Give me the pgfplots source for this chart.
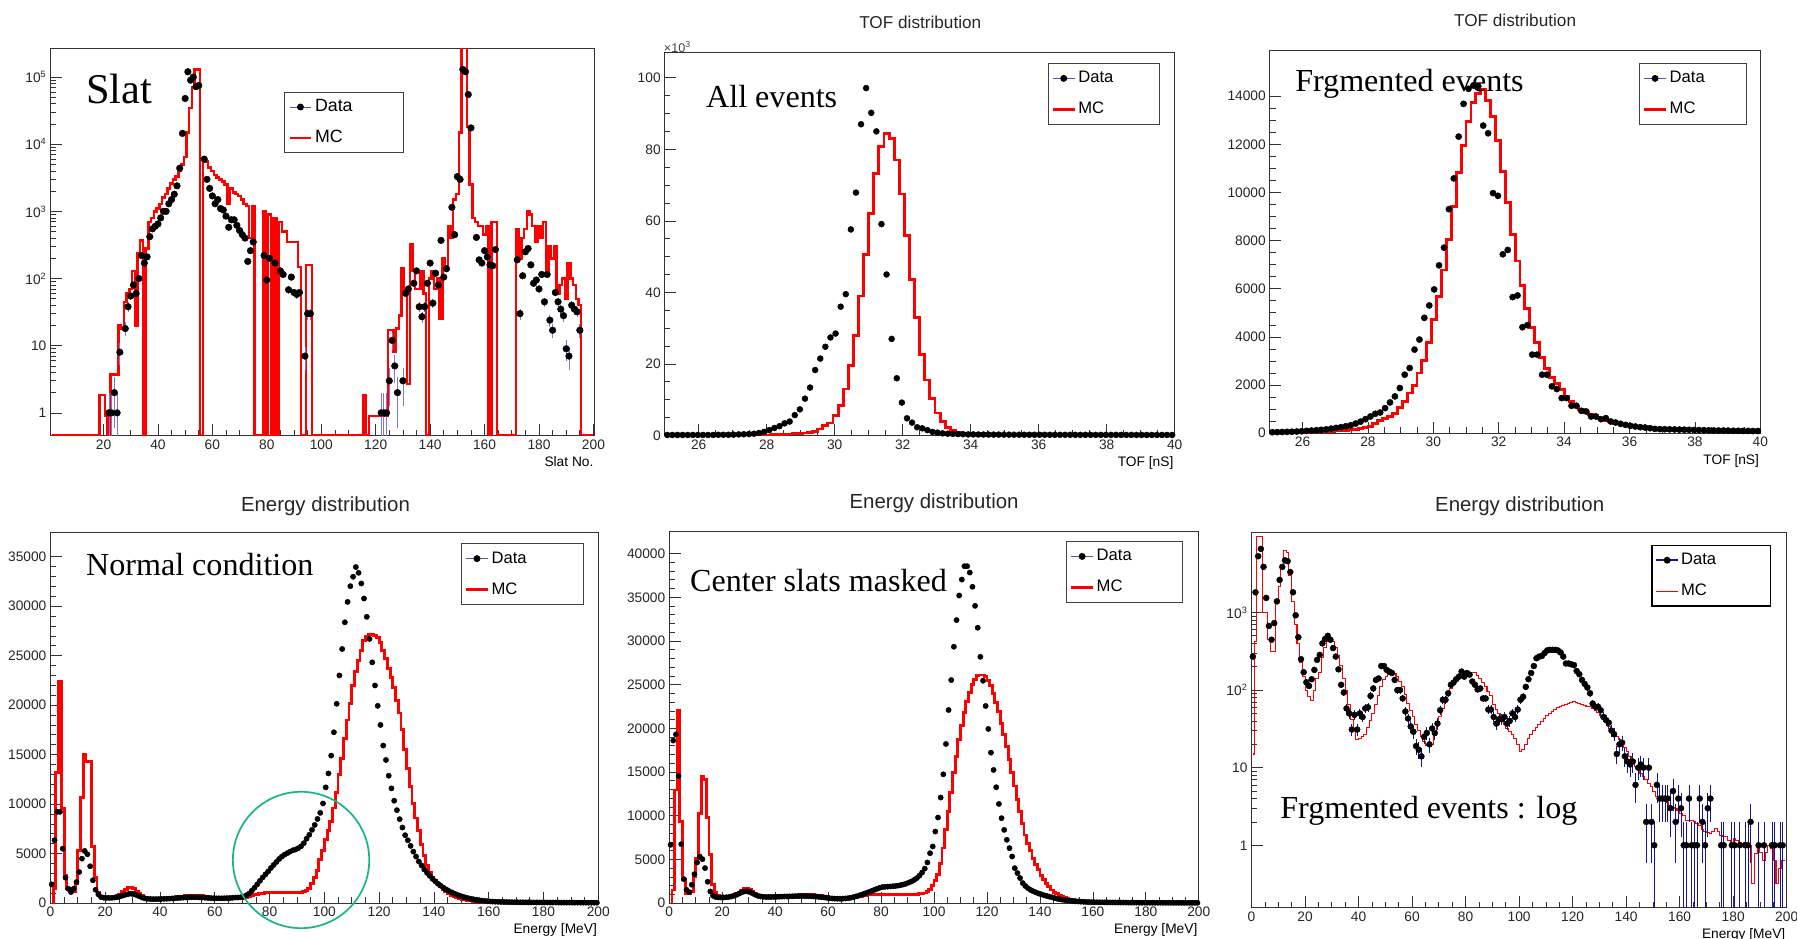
\documentclass[border=0pt]{standalone}
\usepackage{fontspec}
\setmainfont{Liberation Sans}
\newfontfamily\tnr{Liberation Serif}
\usepackage{pgfplots}
\usepackage{pgfplotstable}
\pgfplotsset{compat=1.18}
\newcommand{\fs}[1]{\fontsize{#1}{#1}\selectfont}
\definecolor{circgreen}{RGB}{24,180,140}
\definecolor{errblue}{RGB}{20,20,160}
\definecolor{errlight}{RGB}{120,120,215}

\pgfplotsset{
  rootaxis/.style={
    scale only axis,
    axis line style={black!80, line width=0.8pt},
    tick align=inside, xtick pos=bottom, ytick pos=left,
    major tick length=10pt, minor tick length=5pt,
    every tick/.style={black!80, line width=0.6pt},
    tick label style={font=\fs{12}, text=black!85},
    /pgf/number format/assume math mode=true,
    /pgf/number format/1000 sep={},
    scaled ticks=false,
    xlabel style={font=\fs{12}, at={(rel axis cs:1,0)}, anchor=north east, yshift=-18pt, xshift=-1pt, inner sep=0pt},
    legend cell align=left,
    legend style={draw=black!75, line width=0.8pt, fill=white, font=\fs{14.5}, anchor=north west,
      inner xsep=3pt, inner ysep=4pt, row sep=9pt,
      nodes={inner sep=2pt, text height=11pt, text depth=3pt}},
  },
  dataleg/.style={legend image code/.code={\draw[errlight!60!errblue, line width=0.8pt] (0pt,0pt) -- (19pt,0pt); \fill[black] (9.5pt,0pt) circle (2.6pt);}},
  datalegdark/.style={legend image code/.code={\draw[errblue, line width=1.3pt] (0pt,0pt) -- (19pt,0pt); \fill[black] (9.5pt,0pt) circle (2.3pt);}},
  mcleg/.style={legend image code/.code={\draw[red, line width=2.5pt] (0pt,0pt) -- (19pt,0pt);}},
  mclegthin/.style={legend image code/.code={\draw[red, line width=0.9pt] (0pt,0pt) -- (19pt,0pt);}},
  mcline/.style={red, line width=2.5pt, const plot mark mid, mark=none, forget plot},
  dots/.style={only marks, mark=*, mark size=#1, black, forget plot},
}

% ---------------- Slat ----------------
\pgfplotstableread{
x d
22 1
23 1
24 2
25 1
26 8
28 18
29 38
30 55
31 80
32 60
33 100
34 220
35 170
36 210
37 420
38 550
39 600
40 650
41 800
42 1000
43 1000
44 1300
45 1500
46 1800
47 2400
48 4400
49 14500
50 48000
51 120000
52 90000
53 100000
54 72000
55 75000
57 6000
58 3000
59 2200
60 1700
61 1300
62 1500
63 1100
64 1050
65 850
66 580
67 750
68 750
69 620
70 520
71 450
72 400
73 180
74 260
75 350
79 220
80 95
81 200
83 170
85 130
86 115
88 68
89 105
90 62
91 58
92 62
94 7
95 30
96 30
122 1
123 1
124 1
125 3
126 12
127 5
128 2
130 3
131 60
132 70
134 85
135 130
136 38
137 27
138 38
139 85
140 170
141 43
142 120
143 80
144 370
145 105
146 140
148 1150
149 450
150 3300
151 3000
152 130000
153 120000
154 55000
155 17500
157 410
158 190
159 170
160 260
161 210
162 160
163 155
164 270
172 190
173 30
174 110
175 250
176 280
177 160
178 85
179 95
180 70
181 115
182 45
183 115
184 24
185 17
186 62
187 45
188 35
189 28
190 9
191 7
192 40
193 35
194 32
195 17
}\slatd

\pgfplotstableread{
x m
1 0.46
2 0.46
3 0.46
4 0.46
5 0.46
6 0.46
7 0.46
8 0.46
9 0.46
10 0.46
11 0.46
12 0.46
13 0.46
14 0.46
15 0.46
16 0.46
17 0.46
18 0.46
19 1.85
20 1.85
21 0.9
22 0.46
23 3.7
24 3.7
25 3.7
26 20
27 18
28 45
29 60
30 70
31 130
32 20
33 240
34 370
35 0.46
36 280
37 700
38 800
39 1000
40 1100
41 1300
42 1600
43 1800
44 2200
45 2600
46 3000
47 3300
48 4000
49 5000
50 6500
51 15000
52 35000
53 70000
54 130000
55 130000
56 0.46
57 6000
58 5500
59 4500
60 4000
61 3500
62 3200
63 3000
64 2800
65 2500
66 1300
67 2200
68 1900
69 1800
70 1700
71 1500
72 1300
73 1200
74 400
75 1200
76 0.46
77 0.46
78 0.46
79 1000
80 0.46
81 900
82 0.46
83 800
84 0.46
85 700
86 500
87 500
88 350
89 350
90 350
91 350
92 150
93 0.46
94 0.46
95 160
96 160
97 0.46
98 0.46
99 0.46
100 0.46
101 0.46
102 0.46
103 0.46
104 0.46
105 0.46
106 0.46
107 0.46
108 0.46
109 0.46
110 0.46
111 0.46
112 0.46
113 0.46
114 0.46
115 0.46
116 1.85
117 0.46
118 0.9
119 0.9
120 0.9
121 0.9
122 0.9
123 0.9
124 0.9
125 17
126 17
127 8
128 18
129 28
130 145
131 65
132 2.7
133 320
134 130
135 70
136 70
137 130
138 60
139 0.46
140 100
141 130
142 70
143 100
144 25
145 200
146 150
147 600
148 400
149 1500
150 1800
151 15000
152 300000
153 300000
154 18000
155 2500
156 800
157 700
158 600
159 600
160 450
161 600
162 0.46
163 700
164 700
165 0.46
166 0.46
167 0.46
168 0.46
169 0.46
170 0.46
171 0.46
172 550
173 200
174 400
175 550
176 1000
177 900
178 600
179 350
180 600
181 400
182 700
183 130
184 300
185 200
186 300
187 60
188 80
189 100
190 50
191 170
192 100
193 80
194 50
195 40
196 0.46
197 0.46
198 0.46
199 0.46
200 0.46
}\slatm

% ---------------- TOF all (x10^3) and TOF fragmented ----------------
\pgfplotstableread{
x d m f g
25.075 0.15 0.02 40 20
25.225 0.15 0.02 45 22
25.375 0.15 0.02 50 25
25.525 0.15 0.02 55 28
25.675 0.15 0.02 60 32
25.825 0.15 0.02 70 36
25.975 0.15 0.02 80 40
26.125 0.15 0.02 95 45
26.275 0.15 0.02 110 50
26.425 0.15 0.02 125 56
26.575 0.2 0.02 140 63
26.725 0.2 0.02 160 72
26.875 0.2 0.02 190 82
27.025 0.25 0.02 220 95
27.175 0.3 0.02 250 110
27.325 0.35 0.02 290 130
27.475 0.4 0.03 330 150
27.625 0.5 0.04 400 170
27.775 0.7 0.05 480 210
27.925 1.0 0.08 583 240
28.075 1.5 0.12 694 280
28.225 2.1 0.18 806 420
28.375 2.6 0.25 861 510
28.525 3.4 0.32 1042 600
28.675 3.9 0.42 1278 690
28.825 5.7 0.5 1528 830
28.975 7.3 0.6 1875 1080
29.125 10.3 0.7 2431 1320
29.275 13.4 0.8 2708 1670
29.425 18.3 1.2 3472 1970
29.575 21.5 1.8 3889 2500
29.725 24.8 2.8 4792 3030
29.875 27.4 3.5 5306 3750
30.025 28.5 5.5 5972 4720
30.175 36 8.5 6972 5670
30.325 39.5 13 7708 6780
30.475 57.6 19.5 9306 8060
30.625 67.9 28 10583 9420
30.775 87 39 12319 10830
30.925 97.1 50.5 13681 11940
31.075 90.2 62 14306 12960
31.225 85 73.3 14444 13720
31.375 59.1 80.8 14417 14100
31.525 45 84.5 12778 14280
31.675 27 83 12458 13820
31.825 16 77 9972 13170
31.975 9.2 67.5 9861 12150
32.125 4.8 55.8 7431 10860
32.275 3.6 43.5 7611 9580
32.425 2.3 32.9 5653 8260
32.575 2.0 22.7 5722 7150
32.725 1.5 15.5 4403 6140
32.875 1.0 10.3 4486 5170
33.025 0.8 6.3 3264 4400
33.175 0.6 3.9 3264 3750
33.325 0.5 2.2 2431 3130
33.475 0.45 1.3 2431 2680
33.625 0.4 0.8 1944 2320
33.775 0.35 0.5 1833 2080
33.925 0.3 0.35 1458 1810
34.075 0.3 0.25 1458 1530
34.225 0.28 0.2 1139 1320
34.375 0.27 0.18 1139 1110
34.525 0.26 0.16 931 970
34.675 0.25 0.14 903 860
34.825 0.25 0.12 694 760
34.975 0.24 0.11 694 670
35.125 0.23 0.1 583 600
35.275 0.22 0.09 625 530
35.425 0.22 0.08 486 470
35.575 0.21 0.07 444 420
35.725 0.2 0.06 389 380
35.875 0.2 0.06 347 340
36.025 0.2 0.06 306 310
36.175 0.2 0.06 278 280
36.325 0.2 0.05 250 260
36.475 0.19 0.05 236 240
36.625 0.19 0.05 208 220
36.775 0.19 0.05 180 200
36.925 0.19 0.05 170 185
37.075 0.18 0.05 165 170
37.225 0.18 0.05 160 160
37.375 0.18 0.05 155 150
37.525 0.18 0.05 150 140
37.675 0.17 0.05 145 135
37.825 0.17 0.05 140 130
37.975 0.17 0.04 135 125
38.125 0.17 0.04 130 120
38.275 0.17 0.04 125 115
38.425 0.16 0.04 120 110
38.575 0.16 0.04 115 105
38.725 0.16 0.04 110 100
38.875 0.16 0.04 110 98
39.025 0.16 0.04 105 95
39.175 0.15 0.04 100 92
39.325 0.15 0.04 100 90
39.475 0.15 0.04 95 88
39.625 0.15 0.04 95 85
39.775 0.15 0.04 90 82
39.925 0.15 0.04 90 80
}\tof

% ---------------- Energy: normal (d,m) and masked (p,q) ----------------
\pgfplotstableread{
x d m p q
0.5 1890 0 6670 0
1.5 6350 1450 18600 1500
2.5 9220 13200 19300 12950
3.5 9220 22400 14550 22000
4.5 5500 9560 6740 9330
5.5 2570 2800 2740 2670
6.5 1450 1450 1520 1140
7.5 1110 1200 1260 1140
8.5 1450 1200 2100 1300
9.5 2130 2000 3310 3000
10.5 3140 5300 4650 5140
11.5 4490 10700 5330 10290
12.5 5270 15000 5030 14550
13.5 4930 14300 4000 14170
14.5 3720 14300 2440 9830
15.5 2300 5700 1330 5520
16.5 1350 2600 840 2100
17.5 880 1100 700 1200
18.5 610 700 650 900
19.5 540 600 640 800
20.5 530 550 640 780
21.5 520 550 660 780
22.5 530 600 700 800
23.5 560 650 760 850
24.5 600 750 850 920
25.5 680 900 960 1050
26.5 760 1150 1100 1250
27.5 850 1400 1250 1500
28.5 920 1600 1330 1700
29.5 950 1600 1330 1700
30.5 900 1450 1250 1550
31.5 800 1200 1100 1300
32.5 680 950 950 1050
33.5 560 750 830 880
34.5 480 600 760 800
35.5 430 500 720 770
36.5 410 460 700 760
37.5 400 450 700 760
38.5 400 450 700 770
39.5 410 460 710 780
40.5 420 480 720 790
41.5 430 500 730 800
42.5 440 520 740 810
43.5 450 550 750 820
44.5 470 580 760 840
45.5 490 610 770 860
46.5 510 650 780 880
47.5 530 690 790 900
48.5 550 720 800 930
49.5 570 750 800 950
50.5 580 780 800 970
51.5 590 800 800 980
52.5 590 810 790 980
53.5 580 800 780 970
54.5 570 780 760 950
55.5 560 750 740 920
56.5 540 700 710 880
57.5 520 650 680 830
58.5 500 600 640 780
59.5 490 560 600 720
60.5 480 530 560 660
61.5 480 510 530 600
62.5 480 500 510 560
63.5 490 490 500 540
64.5 500 480 500 530
65.5 510 480 510 530
66.5 530 480 530 540
67.5 560 480 560 560
68.5 560 470 610 590
69.5 590 460 680 630
70.5 640 450 760 680
71.5 780 550 850 740
72.5 950 650 950 800
73.5 1250 750 1060 850
74.5 1550 850 1170 890
75.5 1900 900 1280 920
76.5 2250 950 1400 950
77.5 2600 1000 1520 970
78.5 2900 1030 1640 990
79.5 3200 1050 1750 1000
80.5 3550 1060 1830 1010
81.5 3850 1060 1860 1020
82.5 4150 1070 1880 1020
83.5 4450 1070 1900 1020
84.5 4700 1080 1930 1010
85.5 4900 1080 1960 1000
86.5 5050 1080 2000 990
87.5 5200 1080 2060 980
88.5 5330 1090 2130 980
89.5 5420 1090 2230 980
90.5 5550 1100 2350 990
91.5 5740 1110 2480 1000
92.5 6050 1150 2650 1010
93.5 6500 1250 2860 1030
94.5 6900 1500 3150 1050
95.5 7400 2000 3500 1100
96.5 7900 2600 3950 1150
97.5 8500 3300 4650 1300
98.5 9120 4400 5710 1600
99.5 10070 5300 6480 2000
100.5 11690 6400 8190 2600
101.5 13100 7300 9790 3300
102.5 14900 8200 12080 4500
103.5 17260 9600 14740 6300
104.5 20130 11200 18210 8400
105.5 23000 13000 22100 10500
106.5 25670 14600 25530 12700
107.5 28370 16600 29340 14900
108.5 30430 18500 32390 16800
109.5 32020 20200 35200 18700
110.5 32970 22000 37030 20300
111.5 33950 23400 38560 21800
112.5 33370 24500 38560 23100
113.5 32290 25500 37830 24100
114.5 30770 26500 36200 25000
115.5 28920 26900 34020 25600
116.5 26690 27100 31510 26000
117.5 24320 27100 28190 26100
118.5 21990 27000 25450 26100
119.5 19930 26800 22560 25900
120.5 18000 26300 19930 25500
121.5 15910 25500 17220 24900
122.5 14460 24700 15240 24000
123.5 12870 23700 13260 23000
124.5 11590 22800 11350 21900
125.5 10340 21800 9720 20600
126.5 9390 20500 8380 19300
127.5 8480 19200 7240 17900
128.5 7630 17500 6290 16400
129.5 6860 15500 5330 14900
130.5 6350 13600 4000 13400
131.5 5780 11800 3430 11900
132.5 5200 10100 2860 10500
133.5 4700 8600 2290 9100
134.5 4200 7300 1950 7800
135.5 3800 5900 1700 6800
136.5 3400 4800 1500 6000
137.5 3050 3800 1350 5100
138.5 2750 3100 1220 4400
139.5 2450 2600 1100 3800
140.5 2200 2300 1000 3200
141.5 1950 2000 900 2700
142.5 1750 1700 820 2250
143.5 1550 1400 740 1850
144.5 1380 1150 660 1500
145.5 1220 950 580 1250
146.5 1080 800 500 1050
147.5 950 650 440 880
148.5 840 550 390 740
149.5 740 450 340 620
150.5 650 380 300 520
151.5 570 320 265 440
152.5 500 270 235 380
153.5 440 230 205 330
154.5 380 200 180 280
155.5 330 170 160 240
156.5 290 140 145 210
157.5 250 120 130 185
158.5 220 100 115 165
159.5 190 90 105 150
160.5 165 80 100 130
161.5 150 70 95 115
162.5 140 62 90 102
163.5 130 55 86 90
164.5 120 50 82 80
165.5 110 45 78 72
166.5 100 40 75 65
167.5 95 36 72 58
168.5 90 33 69 52
169.5 85 30 66 47
170.5 80 28 63 43
171.5 78 26 60 39
172.5 76 24 58 36
173.5 74 22 56 33
174.5 72 21 54 30
175.5 70 20 52 28
176.5 68 19 50 26
177.5 66 18 48 24
178.5 64 17 46 22
179.5 62 16 45 21
180.5 60 15 44 20
181.5 58 15 43 19
182.5 56 14 42 18
183.5 55 14 41 17
184.5 54 13 40 17
185.5 52 13 39 16
186.5 51 12 38 16
187.5 50 12 37 15
188.5 49 12 36 15
189.5 48 11 35 15
190.5 47 11 34 15
191.5 46 11 33 15
192.5 45 10 32 15
193.5 44 10 32 15
194.5 43 10 31 15
195.5 42 10 31 15
196.5 41 10 30 15
197.5 40 10 30 15
198.5 40 10 30 15
199.5 40 10 30 15
}\energy

% ---------------- Energy fragmented (log) ----------------
\pgfplotstableread{
x d
0.5 270
1.5 1820
2.5 5300
3.5 6600
4.5 3870
5.5 1540
6.5 670
7.5 445
8.5 730
9.5 1390
10.5 2630
11.5 3870
12.5 4700
13.5 4580
14.5 3320
15.5 1820
16.5 920
17.5 480
18.5 250
19.5 170
20.5 126
21.5 113
22.5 138
23.5 182
24.5 245
25.5 284
26.5 400
27.5 455
28.5 500
29.5 445
30.5 348
31.5 270
32.5 185
33.5 117
34.5 93
35.5 58
36.5 50
37.5 31
38.5 48
39.5 31
40.5 50
41.5 45
42.5 58
43.5 60
44.5 84
45.5 105
46.5 135
47.5 141
48.5 204
49.5 204
50.5 182
51.5 173
52.5 166
53.5 135
54.5 100
55.5 100
56.5 78
57.5 53
58.5 43
59.5 34
60.5 29
61.5 19
62.5 17
63.5 14
64.5 25
65.5 28
66.5 20
67.5 32
68.5 28
69.5 37
70.5 55
71.5 75
72.5 75
73.5 91
74.5 117
75.5 125
76.5 138
77.5 149
78.5 173
79.5 149
80.5 166
81.5 158
82.5 129
83.5 117
84.5 102
85.5 105
86.5 78
87.5 78
88.5 56
89.5 56
90.5 45
91.5 37
92.5 42
93.5 42
94.5 45
95.5 37
96.5 40
97.5 50
98.5 45
99.5 56
100.5 75
101.5 82
102.5 110
103.5 138
104.5 166
105.5 204
106.5 257
107.5 270
108.5 275
109.5 300
110.5 324
111.5 330
112.5 330
113.5 330
114.5 324
115.5 305
116.5 270
117.5 220
118.5 220
119.5 215
120.5 210
121.5 176
122.5 160
123.5 135
124.5 120
125.5 108
126.5 91
127.5 67
128.5 61
129.5 61
130.5 55
131.5 45
132.5 41
133.5 38
134.5 30
135.5 27
136.5 15
137.5 20
138.5 21
139.5 14
140.5 12
141.5 11
142.5 12
143.5 6
144.5 10
145.5 11
146.5 10
147.5 2
148.5 10
149.5 2
150.5 1
151.5 6
152.5 4
153.5 4
154.5 4
155.5 4
156.5 3
157.5 5
158.5 2
159.5 4
160.5 3
161.5 1
162.5 1
163.5 4
164.5 1
165.5 1
166.5 1
167.5 4
168.5 2
169.5 1
170.5 3
171.5 4
175.5 1
176.5 1
179.5 1
180.5 1
182.5 1
184.5 1
185.5 1
186.5 2
189.5 1
191.5 1
194.5 1
195.5 1
197.5 1
198.5 1
}\fragd

\pgfplotstableread{
x m
0.5 15
1.5 425
2.5 9500
3.5 9500
4.5 1000
5.5 1000
6.5 445
7.5 315
8.5 315
9.5 1300
10.5 2170
11.5 4000
12.5 6300
13.5 6000
14.5 3000
15.5 1400
16.5 700
17.5 400
18.5 230
19.5 150
20.5 100
21.5 82
22.5 74
23.5 100
24.5 140
25.5 170
26.5 260
27.5 350
28.5 420
29.5 445
30.5 420
31.5 350
32.5 280
33.5 210
34.5 140
35.5 100
36.5 65
37.5 42
38.5 30
39.5 23
40.5 24
41.5 25
42.5 27
43.5 33
44.5 41
45.5 50
46.5 65
47.5 85
48.5 110
49.5 135
50.5 150
51.5 158
52.5 165
53.5 163
54.5 150
55.5 130
56.5 110
57.5 88
58.5 67
59.5 55
60.5 45
61.5 36
62.5 30
63.5 25
64.5 22
65.5 19.5
66.5 19.5
67.5 20
68.5 26
69.5 35
70.5 45
71.5 58
72.5 70
73.5 88
74.5 105
75.5 118
76.5 132
77.5 140
78.5 150
79.5 155
80.5 160
81.5 165
82.5 170
83.5 168
84.5 155
85.5 140
86.5 125
87.5 110
88.5 97
89.5 85
90.5 65
91.5 57
92.5 50
93.5 43
94.5 36
95.5 32
96.5 29
97.5 27
98.5 24
99.5 20
100.5 16
101.5 17
102.5 20
103.5 24
104.5 27
105.5 30
106.5 33
107.5 36
108.5 39
109.5 43
110.5 47
111.5 50
112.5 53
113.5 56
114.5 59
115.5 61
116.5 64
117.5 66
118.5 68
119.5 70
120.5 71
121.5 70
122.5 68
123.5 66
124.5 63
125.5 62
126.5 61
127.5 58
128.5 55
129.5 52
130.5 47
131.5 43
132.5 39
133.5 34
134.5 30
135.5 27
136.5 25
137.5 23
138.5 20
139.5 18
140.5 16
141.5 14
142.5 12
143.5 10.5
144.5 9.5
145.5 8.5
146.5 7.8
147.5 7
148.5 6.3
149.5 5.7
150.5 5
151.5 4.3
152.5 4.2
153.5 4.2
154.5 4
155.5 3.6
156.5 3.3
157.5 3.1
158.5 3
159.5 2.8
160.5 2.6
161.5 2.4
162.5 2.1
163.5 2.1
164.5 2.1
165.5 2
166.5 1.9
167.5 1.8
168.5 1.6
169.5 1.5
170.5 1.45
171.5 1.4
172.5 1.5
173.5 1.64
174.5 1.5
175.5 1.35
176.5 1.3
177.5 1.28
178.5 1.15
179.5 1.05
180.5 1.22
181.5 1.15
182.5 1.1
183.5 1.05
184.5 1.1
185.5 1
186.5 1
187.5 0.32
188.5 0.78
189.5 0.95
190.5 0.8
191.5 0.64
192.5 0.8
193.5 1
194.5 0.9
195.5 0.64
196.5 0.32
197.5 0.5
198.5 0.64
199.5 0.64
}\fragm

\begin{document}
\begin{tikzpicture}
\path[use as bounding box] (0,0) rectangle (1568pt,819pt);

% ===== Panel 1: Slat =====
\begin{axis}[rootaxis, at={(44pt,439pt)}, width=475pt, height=338pt,
  xmin=0.5, xmax=200.5, ymode=log, ymin=0.46, ymax=2.7e5,
  xtick={20,40,...,200}, minor x tick num=3,
  ytick={1,10,100,1000,10000,100000},
  yticklabels={1,10,10\textsuperscript{2},10\textsuperscript{3},10\textsuperscript{4},10\textsuperscript{5}},
  xlabel={Slat No.},
  legend style={at={(0.4295,0.8876)}, font=\fs{15.5}}]
\addlegendimage{dataleg}\addlegendentry{\makebox[72pt][l]{Data}}
\addlegendimage{mcleg}\addlegendentry{\makebox[72pt][l]{MC}}
\addplot[mcline, line width=2.1pt] table[x=x,y=m] {\slatm};
\addplot[dots=2.9pt, error bars/.cd, y dir=both, y explicit, error mark=none,
  error bar style={errlight, line width=0.7pt}]
  table[x=x, y=d, y error plus expr={sqrt(\thisrow{d})}, y error minus expr={min(sqrt(\thisrow{d}),0.999*\thisrow{d})}] {\slatd};
\end{axis}

% ===== Panel 2: TOF all =====
\begin{axis}[rootaxis, at={(580pt,439pt)}, width=445pt, height=334pt,
  xmin=25, xmax=40, ymin=0, ymax=107,
  xtick={26,28,...,40}, minor x tick num=3,
  ytick={0,20,...,100}, minor y tick num=3,
  xlabel={TOF [nS]},
  legend style={at={(0.7506,0.973)}}]
\addlegendimage{dataleg}\addlegendentry{\makebox[66pt][l]{Data}}
\addlegendimage{mcleg}\addlegendentry{\makebox[66pt][l]{MC}}
\addplot[mcline] table[x=x,y=m] {\tof};
\addplot[dots=2.6pt] table[x=x,y=d] {\tof};
\end{axis}

% ===== Panel 3: TOF fragmented =====
\begin{axis}[rootaxis, at={(1108pt,441pt)}, width=428pt, height=334pt,
  xmin=25, xmax=40, ymin=0, ymax=15900,
  xtick={26,28,...,40}, minor x tick num=3,
  ytick={0,2000,...,14000}, minor y tick num=3,
  xlabel={TOF [nS]},
  legend style={at={(0.7523,0.967)}}]
\addlegendimage{dataleg}\addlegendentry{\makebox[62pt][l]{Data}}
\addlegendimage{mcleg}\addlegendentry{\makebox[62pt][l]{MC}}
\addplot[mcline] table[x=x,y=g] {\tof};
\addplot[dots=2.7pt] table[x=x,y=f] {\tof};
\end{axis}

% ===== Panel 4: Energy normal =====
\begin{axis}[rootaxis, at={(44pt,31pt)}, width=478pt, height=323pt,
  xmin=0, xmax=200, ymin=0, ymax=37400,
  xtick={0,20,...,200}, minor x tick num=3,
  ytick={0,5000,...,35000}, minor y tick num=4,
  xlabel={Energy [MeV]},
  legend style={at={(0.749,0.972)}}]
\addlegendimage{dataleg}\addlegendentry{\makebox[75pt][l]{Data}}
\addlegendimage{mcleg}\addlegendentry{\makebox[75pt][l]{MC}}
\addplot[mcline] table[x=x,y=m] {\energy};
\addplot[dots=2.3pt] table[x=x,y=d] {\energy};
\coordinate (gc) at (axis cs:91.5,4354);
\end{axis}
\draw[circgreen, line width=1.5pt] (gc) circle[radius=59.5pt];

% ===== Panel 5: Energy masked =====
\begin{axis}[rootaxis, at={(584pt,31pt)}, width=462pt, height=324pt,
  xmin=0, xmax=200, ymin=0, ymax=42500,
  xtick={0,20,...,200}, minor x tick num=3,
  ytick={0,5000,...,40000}, minor y tick num=4,
  xlabel={Energy [MeV]},
  legend style={at={(0.749,0.975)}}]
\addlegendimage{dataleg}\addlegendentry{\makebox[70pt][l]{Data}}
\addlegendimage{mcleg}\addlegendentry{\makebox[70pt][l]{MC}}
\addplot[mcline] table[x=x,y=q] {\energy};
\addplot[dots=2.3pt] table[x=x,y=p] {\energy};
\end{axis}

% ===== Panel 6: Energy fragmented log =====
\begin{axis}[rootaxis, at={(1092pt,27pt)}, width=467pt, height=327pt,
  xmin=0, xmax=200, ymode=log, ymin=0.157, ymax=10600,
  xtick={0,20,...,200}, minor x tick num=3,
  ytick={1,10,100,1000},
  yticklabels={1,10,10\textsuperscript{2},10\textsuperscript{3}},
  xlabel={Energy [MeV]},
  legend style={at={(0.747,0.969)}, draw=black, line width=1.4pt}]
\addlegendimage{datalegdark}\addlegendentry{\makebox[73pt][l]{Data}}
\addlegendimage{mclegthin}\addlegendentry{\makebox[73pt][l]{MC}}
\addplot[mcline, line width=0.9pt] table[x=x,y=m] {\fragm};
\addplot[dots=2.6pt, error bars/.cd, y dir=both, y explicit, error mark=none,
  error bar style={errblue, line width=0.7pt}]
  table[x=x, y=d, y error plus expr={sqrt(\thisrow{d})}, y error minus expr={min(sqrt(\thisrow{d}),0.999*\thisrow{d})}] {\fragd};
\end{axis}

% ===== Titles and annotations =====
\node[anchor=base, inner sep=0pt, font=\fs{15}, text=black!85] at (803pt,794.3pt) {TOF distribution};
\node[anchor=base, inner sep=0pt, font=\fs{15}, text=black!85] at (1322pt,795.7pt) {TOF distribution};
\node[anchor=base, inner sep=0pt, font=\fs{17.8}, text=black!85] at (284pt,372.5pt) {Energy distribution};
\node[anchor=base, inner sep=0pt, font=\fs{17.8}, text=black!85] at (815pt,375pt) {Energy distribution};
\node[anchor=base, inner sep=0pt, font=\fs{17.8}, text=black!85] at (1326pt,372.5pt) {Energy distribution};
\node[anchor=center, inner sep=0pt, font=\fs{11}, text=black!75] at (591pt,778pt) {×10\textsuperscript{3}};

\node[anchor=base west, inner sep=0pt, font=\tnr\fs{37}] at (75pt,729pt) {Slat};
\node[anchor=base west, inner sep=0pt, font=\tnr\fs{28}] at (616pt,725.3pt) {All events};
\node[anchor=base west, inner sep=0pt, font=\tnr\fs{28}] at (1130pt,739pt) {Frgmented events};
\node[anchor=base west, inner sep=0pt, font=\tnr\fs{28}] at (75pt,316.4pt) {Normal condition};
\node[anchor=base west, inner sep=0pt, font=\tnr\fs{28}] at (602pt,303.3pt) {Center slats masked};
\node[anchor=base west, inner sep=0pt, font=\tnr\fs{28}] at (1117pt,105pt) {Frgmented events : log};
\end{tikzpicture}
\end{document}
